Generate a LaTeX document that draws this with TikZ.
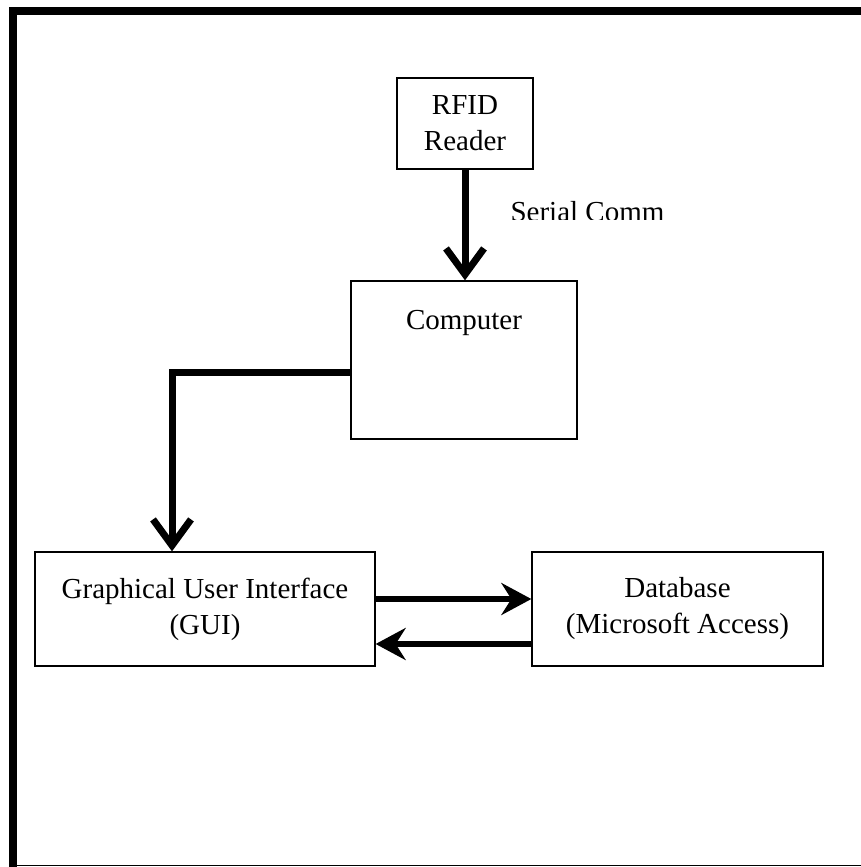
\documentclass[tikz,border=0pt]{standalone}
\usepackage{fontspec}
\setmainfont{Liberation Serif}
\usetikzlibrary{arrows.meta}
\tikzset{
  box/.style={draw, line width=1.3pt, align=center, inner sep=0pt},
  flow/.style={line width=7pt, -{Straight Barb[length=26pt, width=38pt, line width=7pt]}},
  link/.style={line width=6pt, -{Stealth[length=30pt, width=32pt, inset=10pt]}}
}
\begin{document}
\begin{tikzpicture}[x=1pt, y=-1pt, font=\fontsize{29}{36}\selectfont]
\useasboundingbox (0,0) rectangle (861,867);
% frame
\draw[line width=8pt] (12.5,867) -- (12.5,11) -- (861,11);
\draw[line width=1.2pt] (9,865.5) -- (861,865.5);
% boxes
\node[box, minimum width=136pt, minimum height=91pt] (rfid) at (465,123.5) {RFID\\Reader};
\node[box, minimum width=226pt, minimum height=158pt] (comp) at (464,360) {};
\node[anchor=base] (comptext) at ([yshift=-49pt]comp.north) {Computer};
\node[box, minimum width=340pt, minimum height=114pt] (gui) at (205,609) {Graphical User Interface\\(GUI)};
\node[box, minimum width=291pt, minimum height=114pt] (db) at (677.5,609) {Database\\(Microsoft Access)};
% connectors
\draw[flow] (rfid.south) -- (rfid.south |- comp.north);
\begin{scope}
\clip (480,180) rectangle (700,219.5);
\node[anchor=base west] (serial) at (507,221) {Serial Comm};
\end{scope}
\coordinate (bend) at (172,372);
\draw[flow] (bend -| comp.west) -- (bend) -- (bend |- gui.north);
\draw[link] ([yshift=10pt]gui.east) -- ([yshift=10pt]db.west);
\draw[link] ([yshift=-35pt]db.west) -- ([yshift=-35pt]gui.east);
\end{tikzpicture}
\end{document}
